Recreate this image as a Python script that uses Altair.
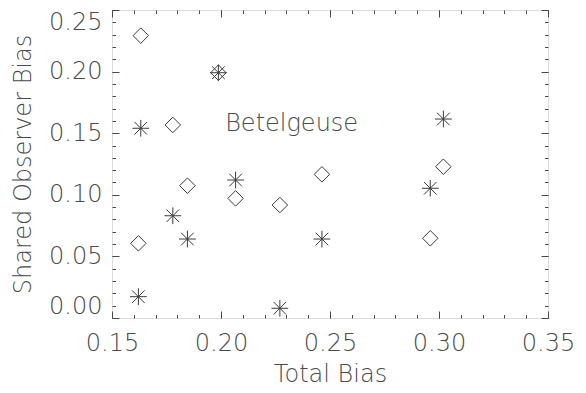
import altair as alt
import pandas as pd

# Data
total_bias = [0.1632, 0.1621, 0.1779, 0.1846, 0.1988, 0.2067, 0.2270, 0.2463, 0.2960, 0.3020]
shared_diamond = [0.2292, 0.0606, 0.1567, 0.1074, 0.1991, 0.0971, 0.0917, 0.1166, 0.0647, 0.1228]
shared_asterisk = [0.1540, 0.0173, 0.0830, 0.0641, 0.1991, 0.1120, 0.0079, 0.0641, 0.1053, 0.1615]

x_major = [0.15, 0.20, 0.25, 0.30, 0.35]
x_minor = [round(0.15 + 0.01 * i, 2) for i in range(21)]
y_major = [0.00, 0.05, 0.10, 0.15, 0.20, 0.25]
y_minor = [round(0.01 * i, 2) for i in range(26)]

label_text = ["Betelgeuse"]
label_x = [0.2324]
label_y = [0.1575]

FONT = "DejaVu Sans"
FW = 200
COL = "#4a4a4a"
FS = 24

dia = pd.DataFrame({"x": total_bias, "y": shared_diamond})
ast = pd.DataFrame({"x": total_bias, "y": shared_asterisk})
lab = pd.DataFrame({"x": label_x, "y": label_y, "t": label_text})

xs = alt.Scale(domain=[0.15, 0.35], nice=False, zero=False)
ys = alt.Scale(domain=[0.0, 0.25], nice=False, zero=False)

y_label_baseline = {
    "condition": [
        {"test": "datum.value <= 0.001", "value": "bottom"},
        {"test": "datum.value >= 0.249", "value": "top"},
    ],
    "value": "middle",
}

def ax(orient, values, size, labels=False, title=None, pad=10, tpad=10, extra=None):
    kw = dict(orient=orient, values=values, tickSize=size, offset=-size,
              domain=False, grid=False, labels=labels, tickColor=COL,
              tickWidth=1)
    if labels:
        kw.update(format=".2f", labelFont=FONT, labelFontWeight=FW,
                  labelFontSize=FS, labelColor=COL, labelPadding=pad,
                  labelFlush=False, labelOverlap=False, labelBound=False)
    if title:
        kw.update(title=title, titleFont=FONT, titleFontWeight=FW,
                  titleFontSize=FS, titleColor=COL, titlePadding=tpad)
    else:
        kw.update(title=None)
    if extra:
        kw.update(extra)
    return alt.Axis(**kw)

asterisk_path = "M-1,0L1,0M0,-1L0,1M-0.75,-0.75L0.75,0.75M-0.75,0.75L0.75,-0.75"

diamonds = alt.Chart(dia).mark_point(
    shape="diamond", filled=False, size=240, stroke="#3a3a3a", strokeWidth=1, opacity=1
).encode(
    x=alt.X("x:Q", scale=xs, axis=ax("bottom", x_major, 7, labels=True, title="Total Bias", pad=13, tpad=7)),
    y=alt.Y("y:Q", scale=ys, axis=ax("left", y_major, 7, labels=True, title="Shared Observer Bias",
                                     pad=10, tpad=13, extra={"labelBaseline": y_label_baseline})),
)

asterisks = alt.Chart(ast).mark_point(
    shape=asterisk_path, filled=False, size=280, stroke="#3a3a3a", strokeWidth=1, opacity=1
).encode(
    x=alt.X("x:Q", scale=xs, axis=ax("bottom", x_minor, 3.5)),
    y=alt.Y("y:Q", scale=ys, axis=ax("left", y_minor, 3.5)),
)

top_right_major = alt.Chart(dia).mark_point(opacity=0).encode(
    x=alt.X("x:Q", scale=xs, axis=ax("top", x_major, 7)),
    y=alt.Y("y:Q", scale=ys, axis=ax("right", y_major, 7)),
)

top_right_minor = alt.Chart(dia).mark_point(opacity=0).encode(
    x=alt.X("x:Q", scale=xs, axis=ax("top", x_minor, 3.5)),
    y=alt.Y("y:Q", scale=ys, axis=ax("right", y_minor, 3.5)),
)

label = alt.Chart(lab).mark_text(
    font=FONT, fontWeight=FW, fontSize=24, color=COL, align="center", baseline="middle"
).encode(
    x=alt.X("x:Q", scale=xs, axis=None),
    y=alt.Y("y:Q", scale=ys, axis=None),
    text="t:N",
)

chart = alt.layer(
    diamonds, asterisks, top_right_major, top_right_minor, label
).resolve_axis(
    x="independent", y="independent"
).properties(
    width=436, height=308,
    autosize=alt.AutoSizeParams(type="none"),
    padding={"left": 104, "top": 2, "right": 30, "bottom": 74},
).configure_view(
    stroke=COL, strokeWidth=1
).configure(background="white")

chart.save("out.html", embed_options={"renderer": "svg", "actions": False})
